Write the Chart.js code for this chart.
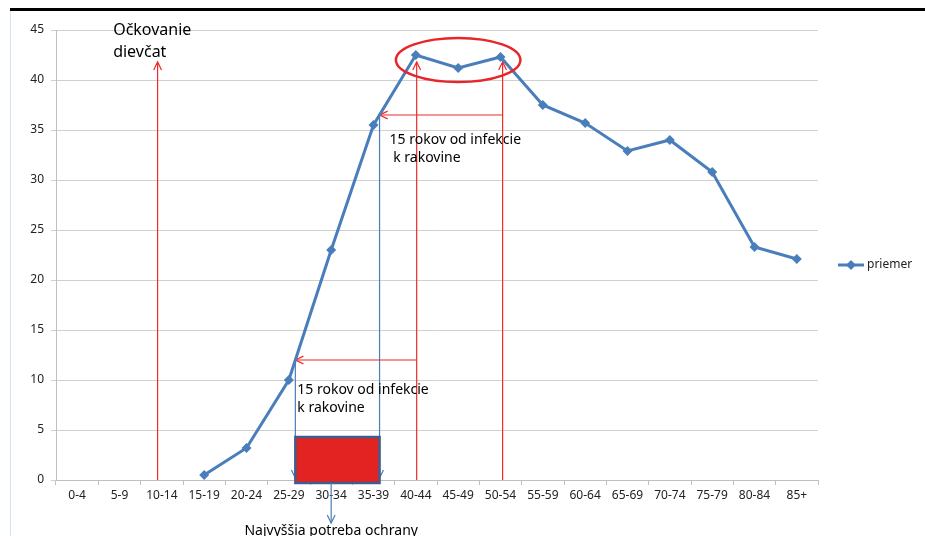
<!DOCTYPE html>
<html>
<head>
<meta charset="utf-8">
<script src="https://cdn.jsdelivr.net/npm/chart.js@4/dist/chart.umd.min.js"></script>
<style>
  body { margin: 0; background: #fff; }
  #wrap { position: relative; width: 925px; height: 536px; overflow: hidden; }
  #topline { position: absolute; left: 10px; top: 8px; width: 915px; height: 3px; background: #000; }
  #leftline { position: absolute; left: 10px; top: 11px; width: 1px; height: 525px; background: #d3e3ef; }
  canvas { position: absolute; left: 0; top: 0; }
</style>
</head>
<body>
<div id="wrap">
  <canvas id="myChart" width="925" height="536"></canvas>
  <div id="topline"></div>
  <div id="leftline"></div>
</div>
<script>
const ageGroups = ['0-4','5-9','10-14','15-19','20-24','25-29','30-34','35-39','40-44',
  '45-49','50-54','55-59','60-64','65-69','70-74','75-79','80-84','85+'];
const priemer = [null, null, null, 0.5, 3.2, 10, 23, 35.5, 42.5, 41.2, 42.3, 37.5, 35.7, 32.9, 34, 30.8, 23.3, 22.1];
const yTicks = [0, 5, 10, 15, 20, 25, 30, 35, 40, 45];

const seriesName = 'priemer';
const vaccineText = ['Očkovanie', 'dievčat'];
const gapText = ['15 rokov od infekcie', ' k rakovine'];
const gapText2 = ['15 rokov od infekcie', 'k rakovine'];
const needText = 'Najvyššia potreba ochrany';

const BLUE = '#4a7ebb';
const RED = '#ee2a24';
const FONT = '"Noto Sans", "Open Sans", sans-serif';

function arrowHead(ctx, x, y, ang, len) {
  // open "V" head pointing in direction ang
  ctx.beginPath();
  ctx.moveTo(x - len * Math.cos(ang - 0.45), y - len * Math.sin(ang - 0.45));
  ctx.lineTo(x, y);
  ctx.lineTo(x - len * Math.cos(ang + 0.45), y - len * Math.sin(ang + 0.45));
  ctx.stroke();
}

function arrow(ctx, x1, y1, x2, y2, color, w) {
  ctx.strokeStyle = color;
  ctx.lineWidth = w;
  ctx.beginPath();
  ctx.moveTo(x1, y1);
  ctx.lineTo(x2, y2);
  ctx.stroke();
  arrowHead(ctx, x2, y2, Math.atan2(y2 - y1, x2 - x1), 9);
}

const notes = {
  id: 'notes',
  beforeDatasetsDraw(chart) {
    const { ctx, scales: { x, y } } = chart;
    ctx.save();
    // blue drop lines where the curve meets the 15-year arrows
    const bx1 = x.getPixelForValue(5.154), bx2 = x.getPixelForValue(7.143);
    arrow(ctx, bx1, y.getPixelForValue(12), bx1, y.getPixelForValue(0.2), BLUE, 1.2);
    arrow(ctx, bx2, y.getPixelForValue(36.5), bx2, y.getPixelForValue(0.2), BLUE, 1.2);

    // red vertical arrows
    [1.9, 8.02, 10.05].forEach(i => {
      const px = x.getPixelForValue(i);
      arrow(ctx, px, y.getPixelForValue(0), px, y.getPixelForValue(41.8), RED, 1.2);
    });
    // red horizontal arrows
    arrow(ctx, x.getPixelForValue(10.05), y.getPixelForValue(36.5), bx2, y.getPixelForValue(36.5), RED, 1.2);
    arrow(ctx, x.getPixelForValue(8.02), y.getPixelForValue(12), bx1, y.getPixelForValue(12), RED, 1.2);
    ctx.restore();
  },
  afterDatasetsDraw(chart) {
    const { ctx, chartArea, scales: { x, y } } = chart;
    ctx.save();

    // red box of highest need
    const bx1 = x.getPixelForValue(5.154), bx2 = x.getPixelForValue(7.143);
    const top = y.getPixelForValue(4.3), bot = y.getPixelForValue(-0.3);
    ctx.fillStyle = '#e32322';
    ctx.fillRect(bx1, top, bx2 - bx1, bot - top);
    ctx.strokeStyle = '#3c5f8f';
    ctx.lineWidth = 2.5;
    ctx.strokeRect(bx1, top, bx2 - bx1, bot - top);

    // blue arrow down to the note
    const mx = x.getPixelForValue(6);
    arrow(ctx, mx, bot, mx, bot + 40, BLUE, 1.2);

    // ellipse around the peak
    ctx.strokeStyle = '#e8262a';
    ctx.lineWidth = 2.5;
    ctx.beginPath();
    ctx.ellipse(x.getPixelForValue(9.0), y.getPixelForValue(42),
      x.getPixelForValue(10.47) - x.getPixelForValue(9.0),
      y.getPixelForValue(39.8) - y.getPixelForValue(42), 0, 0, Math.PI * 2);
    ctx.stroke();

    // texts
    ctx.fillStyle = '#000';
    ctx.textBaseline = 'middle';
    ctx.textAlign = 'left';
    ctx.font = '16px ' + FONT;
    ctx.fillText(vaccineText[0], x.getPixelForValue(0.85), y.getPixelForValue(45));
    ctx.fillText(vaccineText[1], x.getPixelForValue(0.85), y.getPixelForValue(42.8));

    ctx.font = '14px ' + FONT;
    ctx.fillText(gapText[0], x.getPixelForValue(7.38), y.getPixelForValue(34));
    ctx.fillText(gapText[1], x.getPixelForValue(7.38), y.getPixelForValue(32.2));
    ctx.fillText(gapText2[0], x.getPixelForValue(5.2), y.getPixelForValue(9));
    ctx.fillText(gapText2[1], x.getPixelForValue(5.2), y.getPixelForValue(7.2));

    ctx.textAlign = 'center';
    ctx.fillText(needText, mx, bot + 48);

    // legend
    const ly = (chartArea.top + chartArea.bottom) / 2 + 10;
    const lx = chartArea.right + 20;
    ctx.strokeStyle = BLUE;
    ctx.lineWidth = 3;
    ctx.beginPath();
    ctx.moveTo(lx, ly);
    ctx.lineTo(lx + 26, ly);
    ctx.stroke();
    ctx.fillStyle = BLUE;
    ctx.beginPath();
    ctx.moveTo(lx + 13, ly - 5);
    ctx.lineTo(lx + 18, ly);
    ctx.lineTo(lx + 13, ly + 5);
    ctx.lineTo(lx + 8, ly);
    ctx.closePath();
    ctx.fill();
    ctx.fillStyle = '#222';
    ctx.textAlign = 'left';
    ctx.font = '12px ' + FONT;
    ctx.fillText(seriesName, lx + 29, ly);

    ctx.restore();
  }
};

const ctx = document.getElementById('myChart').getContext('2d');
const chart = new Chart(ctx, {
  type: 'line',
  data: {
    labels: ageGroups,
    datasets: [{
      label: seriesName,
      data: priemer,
      borderColor: BLUE,
      backgroundColor: BLUE,
      borderWidth: 3,
      pointStyle: 'rectRot',
      pointRadius: 5,
      pointBorderWidth: 0,
      spanGaps: false,
      tension: 0
    }]
  },
  options: {
    responsive: false,
    animation: false,
    devicePixelRatio: 1,
    layout: { padding: { top: 30, right: 107, left: 10, bottom: 0 } },
    plugins: {
      legend: { display: false },
      tooltip: { enabled: false }
    },
    scales: {
      x: {
        offset: true,
        grid: { offset: true, drawOnChartArea: false, drawTicks: true, tickLength: 5, color: '#bfbfbf' },
        border: { color: '#bfbfbf' },
        ticks: { color: '#222', font: { size: 12, family: FONT }, padding: 3, maxRotation: 0, autoSkip: false },
        afterFit: s => { s.height = 56; }
      },
      y: {
        min: 0,
        max: 45,
        afterBuildTicks: s => { s.ticks = yTicks.map(v => ({ value: v })); },
        grid: { color: '#d0d0d0', tickLength: 5 },
        border: { color: '#bfbfbf' },
        ticks: { color: '#222', font: { size: 12, family: FONT }, padding: 7 },
        afterFit: s => { s.width = 46; }
      }
    }
  },
  plugins: [notes]
});
</script>
</body>
</html>
